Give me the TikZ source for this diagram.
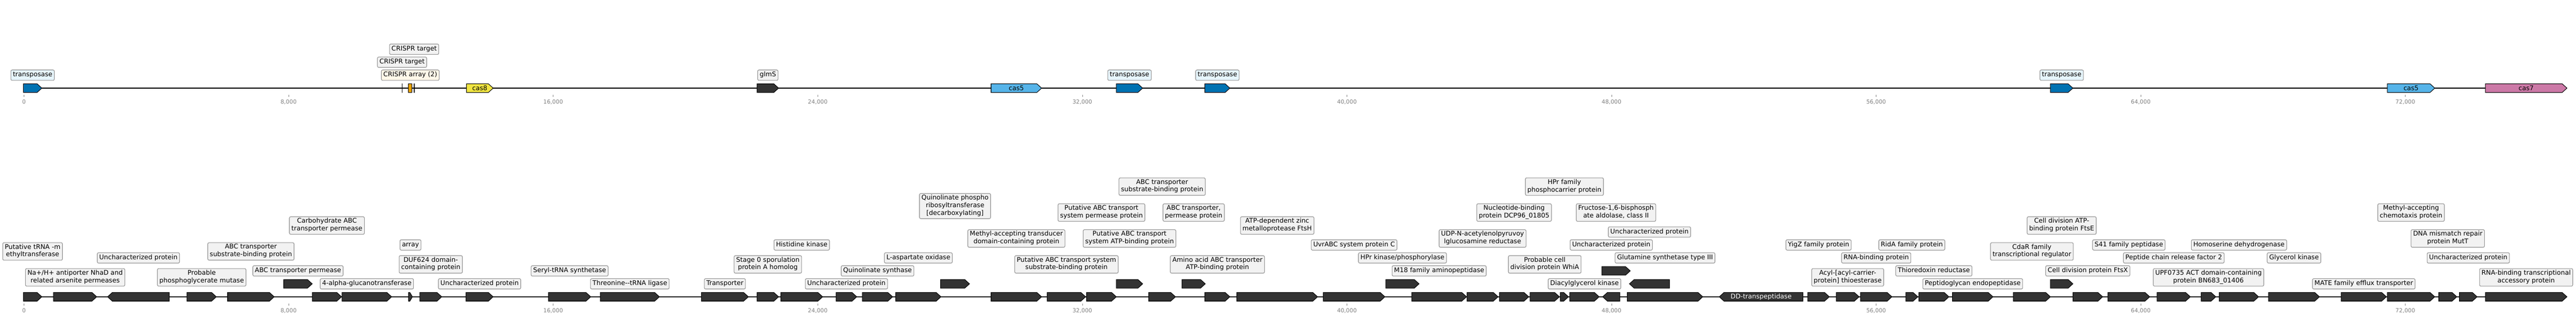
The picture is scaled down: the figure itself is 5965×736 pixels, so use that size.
\documentclass[tikz,border=0pt]{standalone}
\usepackage{fontspec}
\setmainfont{DejaVu Sans}
\pgfdeclarelayer{bg}
\pgfsetlayers{bg,main}
\definecolor{gdark}{RGB}{51,51,51}
\definecolor{tpos}{RGB}{0,114,178}
\definecolor{cfive}{RGB}{86,180,233}
\definecolor{ceight}{RGB}{240,228,66}
\definecolor{cseven}{RGB}{204,121,167}
\definecolor{carr}{RGB}{230,159,0}
\definecolor{boxgray}{RGB}{242,242,242}
\definecolor{boxblue}{RGB}{230,245,252}
\definecolor{boxcream}{RGB}{255,247,232}
\definecolor{boxedge}{RGB}{145,145,145}
\definecolor{leadc}{RGB}{80,80,80}
\definecolor{tickc}{RGB}{128,128,128}
\tikzset{
  genestyle/.style={draw=black, line width=1.2pt, line join=miter},
  lbox/.style={draw=boxedge, fill=boxgray, rounded corners=3pt, line width=1.3pt,
    inner xsep=4.7pt, inner ysep=3.25pt, align=center,
    font=\fontsize{15}{17.5}\selectfont,
    execute at begin node=\strut, execute at end node=\strut},
  tbox/.style={lbox, fill=boxblue},
  abox/.style={lbox, fill=boxcream},
  leader/.style={draw=leadc, line width=0.9pt},
  track/.style={line width=2.2pt, draw=black},
  ticklab/.style={text=tickc, font=\fontsize{13}{15}\selectfont, inner sep=0pt},
  tickmark/.style={draw=tickc, line width=0.8pt},
  intext/.style={font=\fontsize{15}{17.5}\selectfont, inner sep=0pt},
  crbar/.style={draw=black, line width=2pt}
}
% forward gene: name, start, end, ytop, fill
\newcommand\fg[5]{%
  \pgfmathsetmacro\hl{min(11,0.65*(#3-#2))}%
  \pgfmathsetmacro\xb{#3-\hl}%
  \draw[genestyle,fill=#5] (#2,#4) -- (\xb,#4) -- (#3,#4+10) -- (\xb,#4+20) -- (#2,#4+20) -- cycle;%
  \coordinate (#1) at ({(#2+#3)/2},#4);%
}
% reverse gene
\newcommand\rg[5]{%
  \pgfmathsetmacro\hl{min(11,0.65*(#3-#2))}%
  \pgfmathsetmacro\xb{#2+\hl}%
  \draw[genestyle,fill=#5] (#3,#4) -- (\xb,#4) -- (#2,#4+10) -- (\xb,#4+20) -- (#3,#4+20) -- cycle;%
  \coordinate (#1) at ({(#2+#3)/2},#4);%
}
% label: [style]{name}{feature}{ycenter}{text}
\newcommand\lb[5][lbox]{%
  \node[#1] (#2) at (#3 |- 0,#4) {#5};%
  \begin{pgfonlayer}{bg}\draw[leader] (#3) -- (#2.south);\end{pgfonlayer}%
}
\begin{document}
\begin{tikzpicture}[x=1pt,y=-1pt]
\useasboundingbox (0,0) rectangle (5965,736);
\fill[white] (0,0) rectangle (5965,736);
% tracks
\draw[track] (55,204) -- (5944,204);
\draw[track] (55,687) -- (5944,687);
% ticks
\foreach \i/\t in {0/0,1/{8,000},2/{16,000},3/{24,000},4/{32,000},5/{40,000},6/{48,000},7/{56,000},8/{64,000},9/{72,000}}{
  \draw[tickmark] (55.5+612.7*\i,220) -- (55.5+612.7*\i,224);
  \node[ticklab] (tt\i) at (55.5+612.7*\i,236) {\t};
  \draw[tickmark] (55.5+612.7*\i,703) -- (55.5+612.7*\i,707);
  \node[ticklab] (bt\i) at (55.5+612.7*\i,719) {\t};
}
% ================= top track =================
\fg{t1}{54}{97}{194}{tpos}
\lb[tbox]{lt1}{t1}{174}{transposase}
\draw[crbar] (931,193) -- (931,215);
\coordinate (ca) at (931,194);
\lb{lca}{ca}{144}{CRISPR target}
\draw[genestyle,fill=carr] (946,194) rectangle (954,214);
\coordinate (arr) at (950,194);
\lb[abox]{larr}{arr}{174}{CRISPR array (2)}
\draw[crbar] (959,193) -- (959,215);
\coordinate (cb) at (959,194);
\lb{lcb}{cb}{114}{CRISPR target}
\fg{t8}{1080}{1142}{194}{ceight}
\node[intext] (n8) at (1111,204) {cas8};
\fg{tg}{1753}{1803}{194}{gdark}
\lb{ltg}{tg}{174}{glmS}
\fg{t5}{2295}{2412}{194}{cfive}
\node[intext] (n5) at (2353.5,204) {cas5};
\fg{t2}{2585}{2646}{194}{tpos}
\lb[tbox]{lt2}{t2}{174}{transposase}
\fg{t3}{2790}{2848}{194}{tpos}
\lb[tbox]{lt3}{t3}{174}{transposase}
\fg{t4}{4748}{4800}{194}{tpos}
\lb[tbox]{lt4}{t4}{174}{transposase}
\fg{t5b}{5528}{5638}{194}{cfive}
\node[intext] (n5b) at (5583,204) {cas5};
\fg{t7}{5755}{5944}{194}{cseven}
\node[intext] (n7) at (5849.5,204) {cas7};
% ================= bottom track =================
\fg{b1}{54}{97}{677}{gdark}
\lb{l1}{b1}{582}{Putative tRNA -m\\ethyltransferase}
\fg{b2}{124}{224}{677}{gdark}
\lb{l2}{b2}{642}{Na+/H+ antiporter NhaD and\\related arsenite permeases}
\rg{b3}{249}{392}{677}{gdark}
\lb{l3}{b3}{597}{Uncharacterized protein}
\fg{b4}{433}{501}{677}{gdark}
\lb{l4}{b4}{642}{Probable\\phosphoglycerate mutase}
\fg{b5}{527}{635}{677}{gdark}
\lb{l5}{b5}{582}{ABC transporter\\substrate-binding protein}
\fg{b6}{657}{723}{647}{gdark}
\lb{l6}{b6}{627}{ABC transporter permease}
\fg{b7}{723}{791}{677}{gdark}
\lb{l7}{b7}{522}{Carbohydrate ABC\\transporter permease}
\fg{b8}{792}{907}{677}{gdark}
\lb{l8}{b8}{657}{4-alpha-glucanotransferase}
\fg{b9}{946}{955}{677}{gdark}
\lb{l9}{b9}{567}{array}
\fg{b10}{972}{1023}{677}{gdark}
\lb{l10}{b10}{612}{DUF624 domain-\\containing protein}
\fg{b11}{1079}{1142}{677}{gdark}
\lb{l11}{b11}{657}{Uncharacterized protein}
\fg{b12}{1270}{1368}{677}{gdark}
\lb{l12}{b12}{627}{Seryl-tRNA synthetase}
\fg{b13}{1390}{1527}{677}{gdark}
\lb{l13}{b13}{657}{Threonine-{}-tRNA ligase}
\fg{b14}{1624}{1733}{677}{gdark}
\lb{l14}{b14}{657}{Transporter}
\fg{b15}{1753}{1803}{677}{gdark}
\lb{l15}{b15}{612}{Stage 0 sporulation\\protein A homolog}
\fg{b16}{1808}{1905}{677}{gdark}
\lb{l16}{b16}{567}{Histidine kinase}
\fg{b17}{1936}{1984}{677}{gdark}
\lb{l17}{b17}{657}{Uncharacterized protein}
\fg{b18}{1997}{2067}{677}{gdark}
\lb{l18}{b18}{627}{Quinolinate synthase}
\fg{b19}{2074}{2179}{677}{gdark}
\lb{l19}{b19}{597}{L-aspartate oxidase}
\fg{b20}{2178}{2245}{647}{gdark}
\lb{l20}{b20}{477}{Quinolinate phospho\\ribosyltransferase\\{}[decarboxylating]}
\fg{b21}{2295}{2412}{677}{gdark}
\lb{l21}{b21}{552}{Methyl-accepting transducer\\domain-containing protein}
\fg{b22}{2425}{2514}{677}{gdark}
\lb{l22}{b22}{612}{Putative ABC transport system\\substrate-binding protein}
\fg{b23}{2516}{2585}{677}{gdark}
\lb{l23}{b23}{492}{Putative ABC transport\\system permease protein}
\fg{b24}{2585}{2646}{647}{gdark}
\lb{l24}{b24}{552}{Putative ABC transport\\system ATP-binding protein}
\fg{b25}{2660}{2722}{677}{gdark}
\lb{l25}{b25}{432}{ABC transporter\\substrate-binding protein}
\fg{b26}{2737}{2791}{647}{gdark}
\lb{l26}{b26}{492}{ABC transporter,\\permease protein}
\fg{b27}{2790}{2848}{677}{gdark}
\lb{l27}{b27}{612}{Amino acid ABC transporter\\ATP-binding protein}
\fg{b28}{2864}{3051}{677}{gdark}
\lb{l28}{b28}{522}{ATP-dependent zinc\\metalloprotease FtsH}
\fg{b29}{3064}{3207}{677}{gdark}
\lb{l29}{b29}{567}{UvrABC system protein C}
\fg{b30}{3209}{3286}{647}{gdark}
\lb{l30}{b30}{597}{HPr kinase/phosphorylase}
\fg{b31}{3269}{3396}{677}{gdark}
\lb{l31}{b31}{627}{M18 family aminopeptidase}
\fg{b32}{3397}{3469}{677}{gdark}
\lb{l32}{b32}{552}{UDP-N-acetylenolpyruvoy\\lglucosamine reductase}
\fg{b33}{3472}{3540}{677}{gdark}
\lb{l33}{b33}{492}{Nucleotide-binding\\protein DCP96\_01805}
\fg{b34}{3543}{3611}{677}{gdark}
\lb{l34}{b34}{612}{Probable cell\\division protein WhiA}
\fg{b35}{3613}{3632}{677}{gdark}
\lb{l35}{b35}{432}{HPr family\\phosphocarrier protein}
\fg{b36}{3635}{3703}{677}{gdark}
\lb{l36}{b36}{657}{Diacylglycerol kinase}
\rg{b37}{3711}{3751}{677}{gdark}
\lb{l37}{b37}{567}{Uncharacterized protein}
\fg{b38}{3709}{3775}{617}{gdark}
\lb{l38}{b38}{492}{Fructose-1,6-bisphosph\\ate aldolase, class II}
\fg{b39}{3768}{3943}{677}{gdark}
\lb{l39}{b39}{597}{Glutamine synthetase type III}
\rg{b40}{3773}{3866}{647}{gdark}
\lb{l40}{b40}{537}{Uncharacterized protein}
\rg{b41}{3981}{4175}{677}{gdark}
\node[intext,text=white] (n41) at (4078,687) {DD-transpeptidase};
\fg{b42}{4186}{4236}{677}{gdark}
\lb{l42}{b42}{567}{YigZ family protein}
\fg{b43}{4252}{4305}{677}{gdark}
\lb{l43}{b43}{642}{Acyl-[acyl-carrier-\\protein] thioesterase}
\fg{b44}{4308}{4381}{677}{gdark}
\lb{l44}{b44}{597}{RNA-binding protein}
\fg{b45}{4413}{4441}{677}{gdark}
\lb{l45}{b45}{567}{RidA family protein}
\fg{b46}{4443}{4513}{677}{gdark}
\lb{l46}{b46}{627}{Thioredoxin reductase}
\fg{b47}{4521}{4615}{677}{gdark}
\lb{l47}{b47}{657}{Peptidoglycan endopeptidase}
\fg{b48}{4662}{4748}{677}{gdark}
\lb{l48}{b48}{582}{CdaR family\\transcriptional regulator}
\fg{b49}{4748}{4800}{647}{gdark}
\lb{l49}{b49}{522}{Cell division ATP-\\binding protein FtsE}
\fg{b50}{4800}{4869}{677}{gdark}
\lb{l50}{b50}{627}{Cell division protein FtsX}
\fg{b51}{4881}{4978}{677}{gdark}
\lb{l51}{b51}{567}{S41 family peptidase}
\fg{b52}{4995}{5072}{677}{gdark}
\lb{l52}{b52}{597}{Peptide chain release factor 2}
\fg{b53}{5097}{5131}{677}{gdark}
\lb{l53}{b53}{642}{UPF0735 ACT domain-containing\\protein BN683\_01406}
\fg{b54}{5139}{5230}{677}{gdark}
\lb{l54}{b54}{567}{Homoserine dehydrogenase}
\fg{b55}{5253}{5371}{677}{gdark}
\lb{l55}{b55}{597}{Glycerol kinase}
\fg{b56}{5421}{5526}{677}{gdark}
\lb{l56}{b56}{657}{MATE family efflux transporter}
\fg{b57}{5528}{5638}{677}{gdark}
\lb{l57}{b57}{492}{Methyl-accepting\\chemotaxis protein}
\fg{b58}{5647}{5689}{677}{gdark}
\lb{l58}{b58}{552}{DNA mismatch repair\\protein MutT}
\fg{b59}{5695}{5736}{677}{gdark}
\lb{l59}{b59}{597}{Uncharacterized protein}
\fg{b60}{5755}{5944}{677}{gdark}
\lb{l60}{b60}{642}{RNA-binding transcriptional\\accessory protein}
\end{tikzpicture}
\end{document}
